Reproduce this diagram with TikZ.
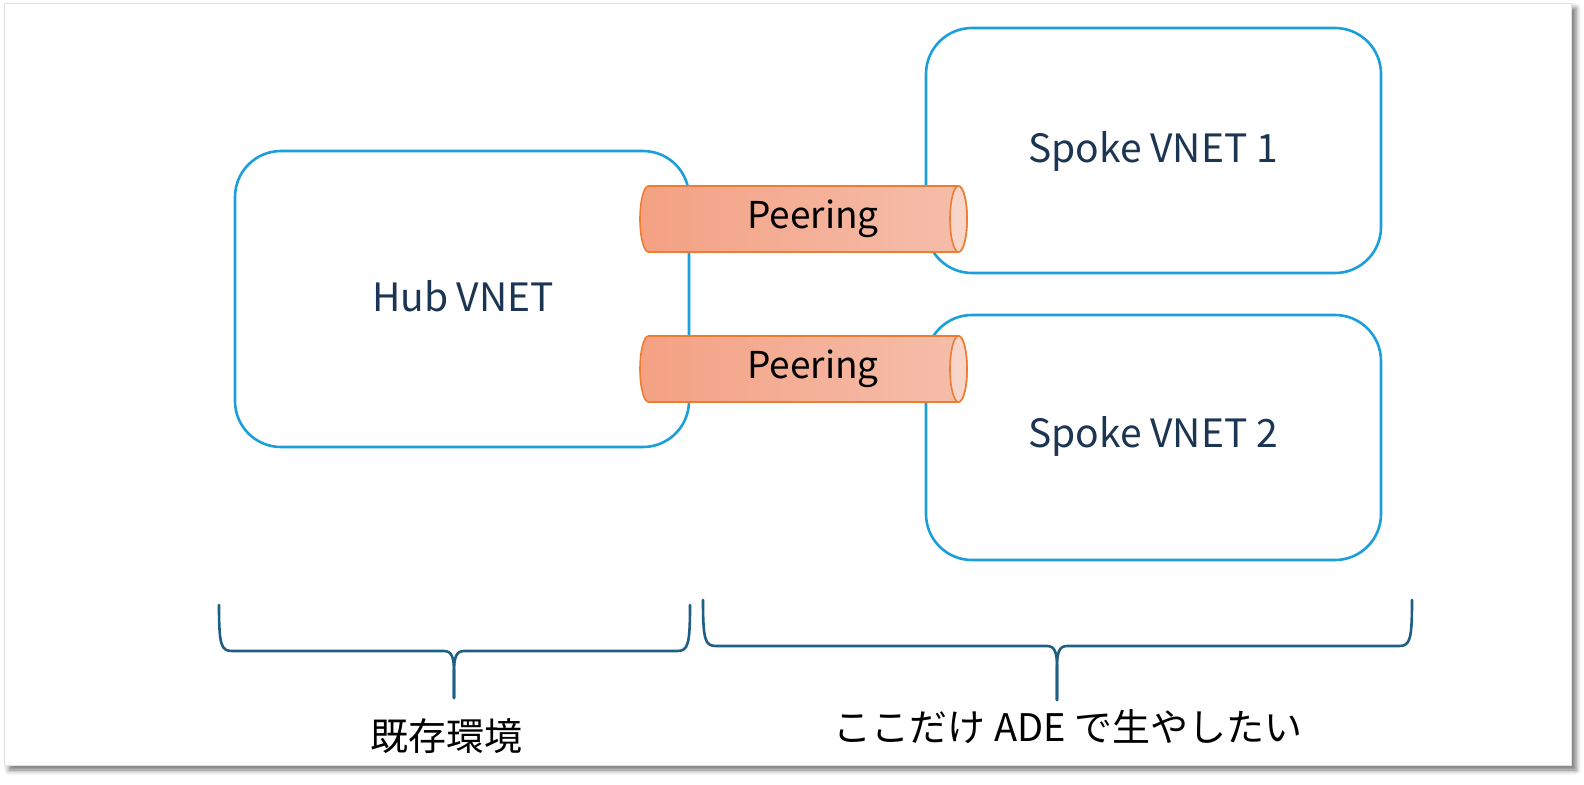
\documentclass[tikz,border=0pt]{standalone}
\usepackage{fontspec}
\setmainfont{Noto Sans CJK JP}
\usetikzlibrary{shadows, shadows.blur, positioning}
\definecolor{vnetblue}{HTML}{1A9FDB}
\definecolor{vnettext}{HTML}{1C3553}
\definecolor{peerline}{HTML}{ED7D31}
\definecolor{peerleft}{HTML}{F4A183}
\definecolor{peerright}{HTML}{F5BEAB}
\definecolor{peercap}{HTML}{F8D5CA}
\definecolor{bracecol}{HTML}{1F5F86}
\tikzset{
    vnet/.style={draw=vnetblue, line width=2.6pt, rounded corners=46pt},
    vnettxt/.style={text=vnettext, font=\fontsize{39}{46}\selectfont},
    tube/.style={draw=peerline, line width=1.6pt, left color=peerleft, right color=peerright},
    tubecap/.style={draw=peerline, line width=1.6pt, fill=peercap},
    tubetext/.style={font=\fontsize{37}{44}\selectfont, inner sep=0pt},
    bracket/.style={draw=bracecol, line width=2.6pt, line cap=round},
    bracetext/.style={font=\fontsize{38}{44}\selectfont, inner sep=0pt}
}

\begin{document}
\begin{tikzpicture}[x=1pt, y=-1pt]
    \useasboundingbox (0,0) rectangle (1584,784);
    % page with shadow
    \fill[white, draw=black!12, line width=0.8pt,
        blur shadow={shadow xshift=5pt, shadow yshift=-5pt, shadow blur radius=5pt, shadow opacity=55}]
        (4,3) rectangle (1571,765);
    % vnets
    \node[vnet, minimum width=454pt, minimum height=296pt] (hub) at (462,299) {};
    \node[vnet, minimum width=455pt, minimum height=245pt] (spoke1) at (1153.5,150.5) {};
    \node[vnet, minimum width=455pt, minimum height=245pt] (spoke2) at (1153.5,437.5) {};
    \node[vnettxt] (hubtxt) at (463,296) {Hub VNET};
    \node[vnettxt] (spoke1txt) at (1153,151) {Spoke VNET 1};
    \node[vnettxt] (spoke2txt) at (1153,436) {Spoke VNET 2};
    % peering tubes
    \foreach \c/\n in {219/1, 369/2} {
        \path[tube] (958.5,\c-33) -- (648.5,\c-33)
            arc[start angle=270, end angle=90, x radius=8.5, y radius=33]
            -- (958.5,\c+33)
            arc[start angle=90, end angle=-90, x radius=8.5, y radius=33] -- cycle;
        \draw[tubecap] (958.5,\c) ellipse[x radius=8.5, y radius=33];
        \node[tubetext] (peer\n) at (813,\c) {Peering};
    }
    % braces
    \coordinate (lbtip) at (454,698);
    \coordinate (rbtip) at (1057,700);
    \draw[bracket] (219,605) .. controls (219,645) and (221,651) .. (232,651) -- (444,651)
        .. controls (452,651) and (454,658) .. (454,672) -- (lbtip);
    \draw[bracket] (690,605) .. controls (690,645) and (688,651) .. (677,651) -- (464,651)
        .. controls (456,651) and (454,658) .. (454,672) -- (lbtip);
    \draw[bracket] (703,600) .. controls (703,640) and (705,646) .. (716,646) -- (1047,646)
        .. controls (1055,646) and (1057,653) .. (1057,667) -- (rbtip);
    \draw[bracket] (1412,600) .. controls (1412,640) and (1410,646) .. (1399,646) -- (1067,646)
        .. controls (1059,646) and (1057,653) .. (1057,667) -- (rbtip);
    \node[bracetext] (existing) at (446,736) {既存環境};
    \node[bracetext] (adeonly) at (1068,727) {ここだけ ADE で生やしたい};
\end{tikzpicture}
\end{document}
